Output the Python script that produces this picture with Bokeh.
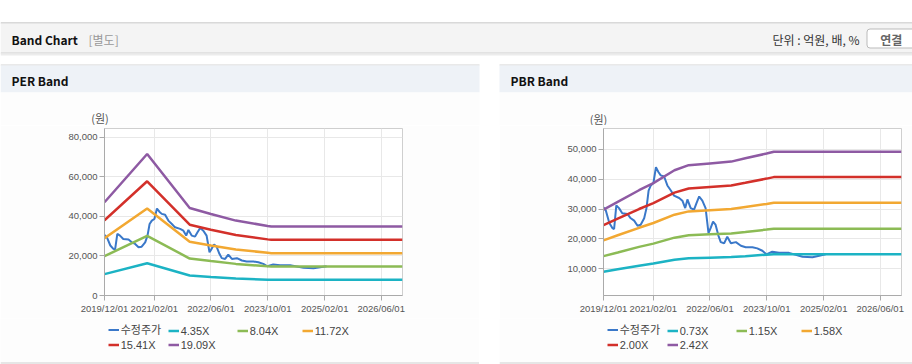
import pandas as pd
from bokeh.plotting import figure
from bokeh.layouts import column, row
from bokeh.models import (Range1d, FixedTicker, DatetimeTickFormatter, NumeralTickFormatter,
                          Legend, LegendItem, Spacer, BoxAnnotation, Label)
from bokeh.core.properties import value
from bokeh.embed import file_html
from bokeh.resources import INLINE

# ---------------- data ----------------
price_dates = ["2019-12-01", "2019-12-21", "2020-01-20", "2020-02-15", "2020-03-01", "2020-03-20",
               "2020-04-12", "2020-05-10", "2020-06-24", "2020-07-22", "2020-08-20", "2020-09-18",
               "2020-10-15", "2020-11-14", "2020-12-04", "2020-12-22", "2021-01-10", "2021-02-01",
               "2021-02-23", "2021-03-16", "2021-04-05", "2021-05-04", "2021-06-01", "2021-07-01",
               "2021-07-28", "2021-09-10", "2021-10-08", "2021-11-01", "2021-11-20", "2021-12-18",
               "2022-01-16", "2022-02-06", "2022-03-01", "2022-03-28", "2022-04-25", "2022-05-20",
               "2022-06-07", "2022-06-28", "2022-07-19", "2022-08-13", "2022-09-02", "2022-10-01",
               "2022-10-28", "2022-11-28", "2023-01-10", "2023-02-22", "2023-04-04", "2023-06-01",
               "2023-07-13", "2023-08-25", "2023-09-28", "2023-11-18", "2024-01-15", "2024-04-10",
               "2024-08-04", "2024-10-28", "2024-12-25", "2025-02-18"]
price_values = [30600, 29500, 25300, 23600, 23300, 31200,
                30300, 28600, 28300, 26900, 26100, 24400,
                24700, 26900, 30300, 36200, 37900, 38700,
                44000, 42400, 41300, 40900, 37900, 36200,
                34500, 33700, 32800, 30300, 33200, 30300,
                29800, 32000, 34200, 32800, 30300, 21900,
                23600, 25800, 24800, 21100, 18900, 18500,
                20700, 18500, 18900, 17700, 17200, 17200,
                16800, 16000, 14800, 15700, 15300, 15300,
                14000, 13800, 14300, 14800]

per_dates = ["2019-12-01", "2020-12-01", "2021-12-01", "2022-06-01", "2023-01-01",
             "2023-10-01", "2023-11-01", "2026-12-01"]
per_435 = [10800, 16300, 10100, 9400, 8600, 8000, 7950, 7950]
per_804 = [19900, 30200, 18700, 17400, 16000, 14800, 14700, 14700]
per_1172 = [29000, 44000, 27200, 25300, 23300, 21600, 21400, 21400]
per_1541 = [38100, 57800, 35800, 33300, 30600, 28400, 28200, 28200]
per_1909 = [47200, 71600, 44300, 41200, 37900, 35200, 34900, 34900]

pbr_dates = ["2019-12-01", "2020-04-01", "2020-10-01", "2021-02-01", "2021-08-01", "2021-12-01",
             "2022-06-01", "2022-12-01", "2023-04-01", "2023-10-01", "2023-12-01", "2026-12-01"]
pbr_073 = [9000, 9800, 11000, 11700, 13000, 13500, 13700, 13900, 14200, 14700, 14800, 14800]
pbr_115 = [14200, 15400, 17300, 18400, 20400, 21200, 21500, 21800, 22300, 23100, 23400, 23400]
pbr_158 = [19500, 21200, 23700, 25300, 28100, 29200, 29600, 30000, 30700, 31700, 32100, 32100]
pbr_200 = [24600, 26800, 30000, 32000, 35500, 36900, 37400, 37900, 38800, 40200, 40700, 40700]
pbr_242 = [29800, 32400, 36300, 38700, 43000, 44700, 45300, 45900, 47000, 48600, 49200, 49200]

x_tick_dates = ["2019-12-01", "2021-02-01", "2022-06-01", "2023-10-01", "2025-02-01", "2026-06-01"]
per_y_ticks = [0, 20000, 40000, 60000, 80000]
pbr_y_ticks = [10000, 20000, 30000, 40000, 50000]

per_labels = ["수정주가", "4.35X", "8.04X", "11.72X", "15.41X", "19.09X"]
pbr_labels = ["수정주가", "0.73X", "1.15X", "1.58X", "2.00X", "2.42X"]
series_colors = ["#3a78c9", "#1cb3c4", "#8cbb55", "#f2a832", "#d3302a", "#8e5aa3"]

# ---------------- styling ----------------
KR = "Noto Sans CJK KR"
NUM = "Liberation Sans"
LEG_FONT = "Liberation Sans, Noto Sans CJK KR"
PANEL_BG = "#fdfdfd"
HDR_H = 125      # header block: page y 0..125
CH_H = 193       # chart block: page y 125..318
LG_H = 46        # legend block: page y 318..364


def make_chart(width, b_left, b_right, y_start, y_end, y_ticks, band_dates, bands):
    p = figure(width=width, height=CH_H, x_axis_type="datetime",
               x_range=Range1d(pd.Timestamp("2019-12-01"), pd.Timestamp("2026-12-01")),
               y_range=Range1d(y_start, y_end),
               toolbar_location=None, output_backend="svg",
               min_border_left=b_left, min_border_right=b_right,
               min_border_top=3, min_border_bottom=23)
    p.border_fill_color = PANEL_BG
    p.background_fill_color = "white"
    p.outline_line_color = "#cfcfcf"

    tick_ms = [pd.Timestamp(d).value / 1e6 for d in x_tick_dates]
    p.xaxis.ticker = FixedTicker(ticks=tick_ms)
    fmt = "%Y/%m/%d"
    p.xaxis.formatter = DatetimeTickFormatter(days=fmt, months=fmt, years=fmt, hours=fmt)
    p.yaxis.ticker = FixedTicker(ticks=y_ticks)
    p.yaxis.formatter = NumeralTickFormatter(format="0,0")

    for ax in (p.xaxis, p.yaxis):
        ax.axis_line_color = "#aaaaaa"
        ax.major_tick_line_color = "#aaaaaa"
        ax.major_tick_in = 0
        ax.major_tick_out = 5
        ax.minor_tick_line_color = None
        ax.major_label_text_font = NUM
        ax.major_label_text_font_size = "9.5px"
        ax.major_label_text_color = "#555555"
    p.yaxis.major_label_standoff = 2
    p.xaxis.major_label_standoff = 2
    p.grid.grid_line_color = "#e8e8e8"

    p.line(pd.to_datetime(price_dates), price_values, line_color=series_colors[0], line_width=2)
    bd = pd.to_datetime(band_dates)
    for vals, col in zip(bands, series_colors[1:]):
        p.line(bd, vals, line_color=col, line_width=2.5)
    return p


def make_legend(width, labels):
    lf = figure(width=width, height=LG_H, x_range=Range1d(0, width), y_range=Range1d(LG_H, 0),
                toolbar_location=None, output_backend="svg", min_border=0,
                x_axis_location=None, y_axis_location=None)
    lf.grid.visible = False
    lf.outline_line_color = None
    lf.background_fill_color = PANEL_BG
    lf.border_fill_color = PANEL_BG
    # bottom border of the panel (page y 362..363)
    lf.quad(left=[0], right=[width], top=[44], bottom=[45], fill_color="#d0d0d0", line_color=None)
    xs = [107.7, 167.7, 236.7, 301.7, 107.7, 167.7]
    ys = [27, 27, 27, 27, 13, 13]
    for lab, col, lx, ly, i in zip(labels, series_colors, xs, ys, range(6)):
        lw = 2 if i == 0 else 2.5
        # legend-key carrier, kept outside the visible area
        r = lf.line(x=[-30, -20], y=[-30, -30], line_color=col, line_width=lw)
        lg = Legend(items=[LegendItem(label=lab, renderers=[r])], location=(lx, ly),
                    padding=0, margin=0, spacing=0, border_line_color=None,
                    background_fill_alpha=0, glyph_width=11, glyph_height=13,
                    label_height=13, label_standoff=2,
                    label_text_font=LEG_FONT, label_text_font_size="11px",
                    label_text_color="#444444")
        lf.add_layout(lg)
    return lf


per = make_chart(479, 104, 77, 0, 84500, per_y_ticks, per_dates,
                 [per_435, per_804, per_1172, per_1541, per_1909])
pbr = make_chart(413, 104, 11, 1000, 57000, pbr_y_ticks, pbr_dates,
                 [pbr_073, pbr_115, pbr_158, pbr_200, pbr_242])
per_leg = make_legend(479, per_labels)
pbr_leg = make_legend(413, pbr_labels)

# ---------------- header ----------------
hdr = figure(width=912, height=HDR_H, x_range=Range1d(0, 912), y_range=Range1d(HDR_H, 0),
             toolbar_location=None, output_backend="svg", min_border=0,
             x_axis_location=None, y_axis_location=None)
hdr.grid.visible = False
hdr.outline_line_color = None
hdr.background_fill_color = "white"
hdr.border_fill_color = "white"

hdr.quad(left=[0], right=[912], top=[22], bottom=[23], fill_color="#b3b3b3", line_color=None)
hdr.quad(left=[0], right=[912], top=[23], bottom=[52], fill_color="#f4f4f4", line_color=None)
hdr.quad(left=[0], right=[912], top=[52], bottom=[53], fill_color="#cccccc", line_color=None)
hdr.quad(left=[0], right=[912], top=[53], bottom=[55], fill_color="#ececec", line_color=None)
hdr.quad(left=[0, 499], right=[479, 912], top=[64, 64], bottom=[65, 65],
         fill_color="#d4d4d4", line_color=None)
hdr.quad(left=[0, 499], right=[479, 912], top=[65, 65], bottom=[92, 92],
         fill_color="#eef2f7", line_color=None)
hdr.quad(left=[0, 499], right=[479, 912], top=[92, 92], bottom=[HDR_H, HDR_H],
         fill_color=PANEL_BG, line_color=None)

hdr.text(x=[11], y=[38.5], text=["Band Chart"], text_font=value(KR), text_font_style="bold",
         text_font_size="12px", text_baseline="middle", text_color="#111111")
hdr.text(x=[88], y=[38.5], text=["[별도]"], text_font=value(KR),
         text_font_size="12px", text_baseline="middle", text_color="#999999")
hdr.text(x=[859], y=[38.5], text=["단위 : 억원, 배, %"], text_font=value(KR),
         text_font_size="12px", text_baseline="middle", text_align="right", text_color="#333333")
hdr.text(x=[11, 510], y=[79.5, 79.5], text=["PER Band", "PBR Band"], text_font=value(KR),
         text_font_style="bold", text_font_size="12px", text_baseline="middle",
         text_color="#111111")
# y-axis unit labels
hdr.text(x=[99.5, 598], y=[117, 118], text=["(원)", "(원)"], text_font=value(KR),
         text_font_size="11px", text_baseline="middle", text_align="center",
         text_color="#555555")

# button (rounded box + label, drawn as annotations so the label sits on top)
hdr.add_layout(BoxAnnotation(left=866.5, right=930, top=28.5, bottom=47.5, border_radius=3,
                             fill_color="white", fill_alpha=1, line_color="#bbbbbb",
                             line_width=1, line_alpha=1))
hdr.add_layout(Label(x=890.7, y=38.5, text="연결", text_font=KR, text_font_style="bold",
                     text_font_size="12px", text_baseline="middle", text_align="center",
                     text_color="#666666"))

layout = column(hdr,
                row(per, Spacer(width=20, height=CH_H), pbr),
                row(per_leg, Spacer(width=20, height=LG_H), pbr_leg))

open("out.html", "w").write(file_html(layout, INLINE))
